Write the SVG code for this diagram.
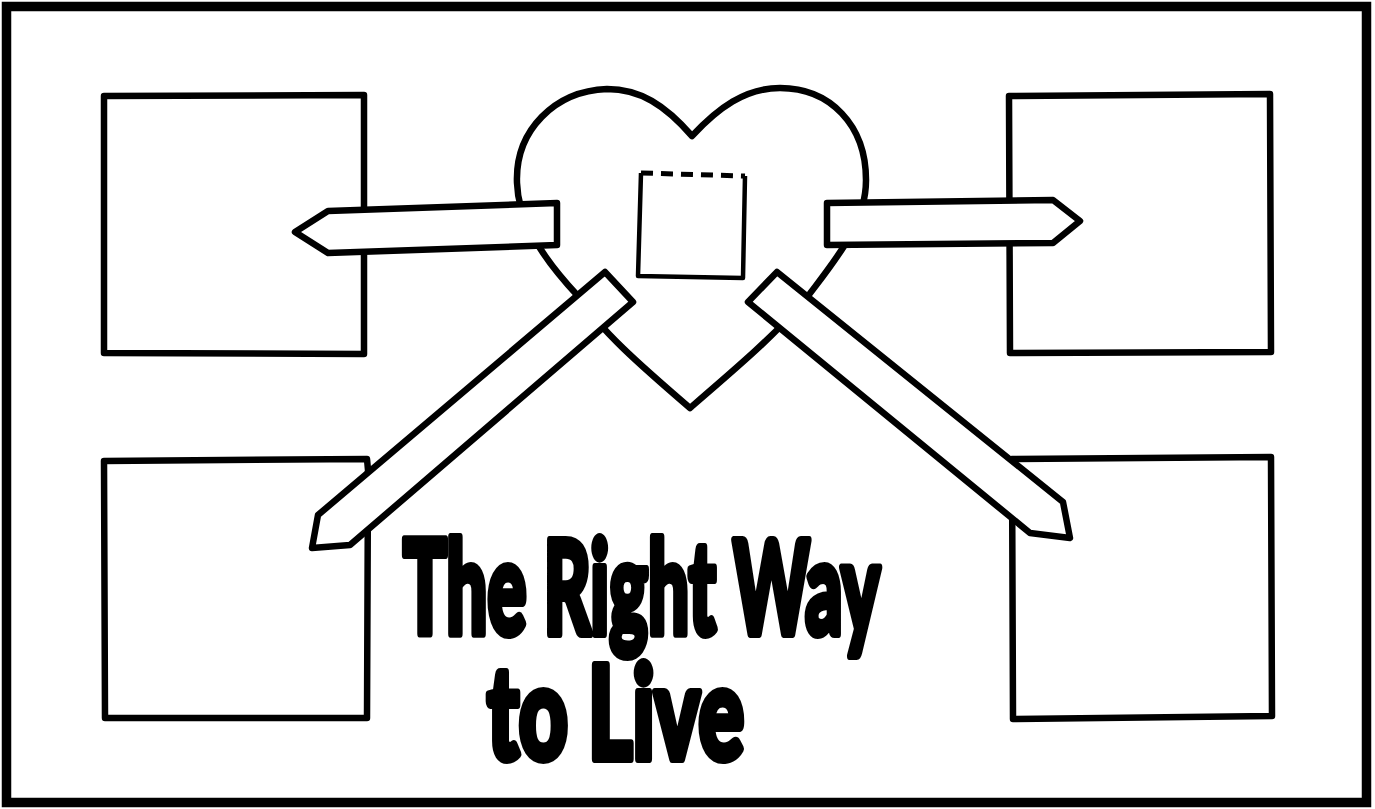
<svg xmlns="http://www.w3.org/2000/svg" width="1375" height="809" viewBox="0 0 1375 809">
<style>
.ln{fill:none;stroke:#000;stroke-width:6.5;stroke-linejoin:round;stroke-linecap:round}
.box{fill:#fff;stroke:#000;stroke-width:6.5;stroke-linejoin:round}
.pen{fill:#fff;stroke:#000;stroke-width:6.5;stroke-linejoin:round}
.title{font-family:"Lato","Liberation Sans","DejaVu Sans",sans-serif;font-weight:900;font-size:130px;fill:#000;stroke:#000;stroke-width:8;stroke-linejoin:round}
</style>
<rect x="0" y="0" width="1375" height="809" fill="#fff"/>
<g id="frame"><rect x="6.5" y="6.5" width="1360" height="796" fill="none" stroke="#000" stroke-width="9.5"/></g>
<g id="box-tl"><path class="box" d="M104 96 L364 95 L364 354 L104 353 Z"/></g>
<g id="box-tr"><path class="box" d="M1009 96 L1270 94 L1271 352 L1010 353 Z"/></g>
<g id="box-bl"><path class="box" d="M104 461 L367 459 L368 470 L367 718 L105 718 Z"/></g>
<g id="box-br"><path class="box" d="M1012 459 L1271 457 L1272 716 L1013 719 Z"/></g>
<g id="heart">
<path class="ln" fill="#fff" d="M692 136 C665 105 640 89 607 89 C555 91 515 130 517 183 C518 215 535 250 578 296 C600 330 640 365 690 408 C740 365 775 335 805 300 C835 260 866 225 866 180 C866 125 830 88 780 88 C745 88 718 108 692 136 Z"/>
<path d="M641 173 L745 176" fill="none" stroke="#000" stroke-width="5" stroke-dasharray="12,8"/>
<path d="M745 176 L743 278 L638 276 L641 173" fill="none" stroke="#000" stroke-width="4.5" stroke-linejoin="round"/>
</g>
<g id="connectors">
<path class="pen" d="M295 232 L328 211 L557 203 L557 245 L328 253 Z"/>
<path class="pen" d="M827 203 L1053 200 L1080 221 L1053 243 L827 245 Z"/>
<path class="pen" d="M605 272 L633 302 L350 545 L312 548 L318 515 Z"/>
<path class="pen" d="M777 272 L1063 502 L1070 538 L1030 533 L748 302 Z"/>
</g>
<g id="title">
<text class="title"><tspan x="403" y="634" textLength="477" lengthAdjust="spacingAndGlyphs">The Right Way</tspan><tspan x="487" y="759" textLength="257" lengthAdjust="spacingAndGlyphs">to Live</tspan></text>
</g>
</svg>
